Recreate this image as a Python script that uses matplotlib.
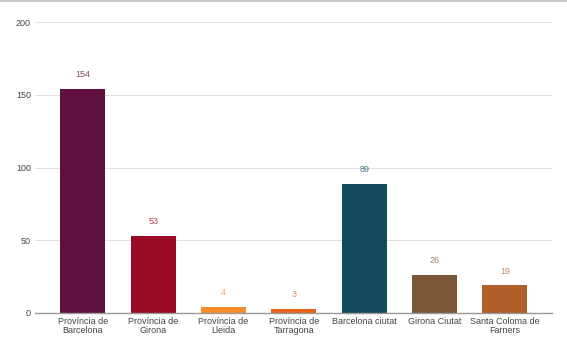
import matplotlib
matplotlib.use("Agg")
import matplotlib.pyplot as plt
from matplotlib.lines import Line2D

plt.rcParams['font.family'] = ['Liberation Sans', 'DejaVu Sans']

categories = ["Província de\nBarcelona", "Província de\nGirona", "Província de\nLleida",
              "Província de\nTarragona", "Barcelona ciutat", "Girona Ciutat",
              "Santa Coloma de\nFarners"]
values = [154, 53, 4, 3, 89, 26, 19]
colors = ["#5E1040", "#9A0A24", "#F68B2A", "#E4621B", "#134D5B", "#7A5736", "#B05F28"]
yticks = [0, 50, 100, 150, 200]

W, H = 567, 351
fig = plt.figure(figsize=(W / 100, H / 100), dpi=100)
left, right, bottom, top = 35, 552, 313, 22
ax = fig.add_axes([left / W, 1 - bottom / H, (right - left) / W, (bottom - top) / H])

x = list(range(len(categories)))
ax.bar(x, values, width=0.64, color=colors, zorder=3)
for xi, v, c in zip(x, values, colors):
    ax.annotate(str(v), (xi, v), xytext=(0, 7), textcoords="offset points",
                ha="center", va="bottom", fontsize=6.5, color=c, alpha=0.75)

ax.set_xlim(-0.68, 6.67)
ax.set_ylim(0, 200)
ax.set_yticks(yticks)
ax.set_yticklabels([str(t) for t in yticks], fontsize=6.5, color="#444444")
ax.set_xticks(x)
ax.set_xticklabels(categories, fontsize=6.5, color="#444444", linespacing=1.0)
ax.tick_params(axis="both", length=0)
ax.tick_params(axis="y", pad=3)
ax.tick_params(axis="x", pad=3)
ax.grid(axis="y", color="#e0e0e0", linewidth=0.8, zorder=0)
for s in ["top", "right", "left"]:
    ax.spines[s].set_visible(False)
ax.spines["bottom"].set_color("#9a9a9a")
ax.spines["bottom"].set_linewidth(1.0)
ax.spines["bottom"].set_zorder(4)

fig.add_artist(Line2D([0, 1], [1 - 0.5 / H, 1 - 0.5 / H], color="#c8c8c8",
                      linewidth=1.5, transform=fig.transFigure))

fig.savefig("out.png", dpi=100)
